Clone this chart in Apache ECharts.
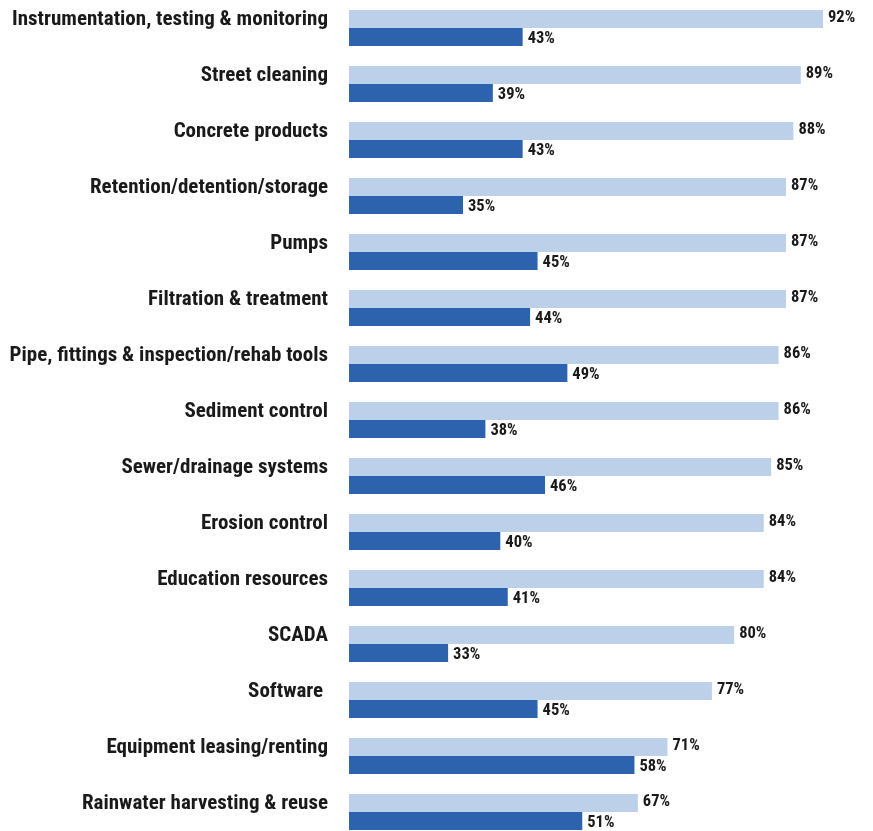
<!DOCTYPE html>
<html>
<head>
<meta charset="utf-8">
<script src="https://cdn.jsdelivr.net/npm/echarts@6/dist/echarts.min.js"></script>
<style>
html,body{margin:0;padding:0;background:#fff;}
#chart{width:873px;height:831px;}
</style>
</head>
<body>
<div id="chart"></div>
<script>
const categories = [
  "Instrumentation, testing & monitoring",
  "Street cleaning",
  "Concrete products",
  "Retention/detention/storage",
  "Pumps",
  "Filtration & treatment",
  "Pipe, fittings & inspection/rehab tools",
  "Sediment control",
  "Sewer/drainage systems",
  "Erosion control",
  "Education resources",
  "SCADA",
  "Software ",
  "Equipment leasing/renting",
  "Rainwater harvesting & reuse"
];
const lightValues = [92, 89, 88, 87, 87, 87, 86, 86, 85, 84, 84, 80, 77, 71, 67];
const darkValues  = [43, 39, 43, 35, 45, 44, 49, 38, 46, 40, 41, 33, 45, 58, 51];

const FONT = '"Roboto Condensed", "Liberation Sans Narrow", "Arial Narrow", "DejaVu Sans Condensed", sans-serif';
const chart = echarts.init(document.getElementById('chart'), null, {renderer: 'canvas'});
const valueLabel = {
  show: true,
  position: 'right',
  distance: 5,
  formatter: p => p.value + '%',
  fontFamily: FONT,
  fontSize: 16.5,
  fontWeight: 'bold',
  color: '#1a1a1a'
};
chart.setOption({
  animation: false,
  grid: {left: 349, top: 0, width: 474, height: 840, containLabel: false, outerBoundsMode: 'none'},
  xAxis: [
    {type: 'value', min: 28, max: 92, show: false, splitLine: {show: false}},
    {type: 'value', min: 19.7, max: 83.3, show: false, splitLine: {show: false}}
  ],
  yAxis: {
    type: 'category',
    data: categories,
    inverse: true,
    axisLine: {show: false},
    axisTick: {show: false},
    axisLabel: {
      margin: 21,
      fontFamily: FONT,
      fontSize: 21,
      fontWeight: 'bold',
      color: '#1a1a1a',
      verticalAlign: 'bottom',
      lineHeight: 16
    }
  },
  series: [
    {
      type: 'bar',
      name: 'light',
      xAxisIndex: 0,
      data: lightValues,
      barWidth: 18,
      barGap: '0%',
      itemStyle: {color: '#BCD0EA'},
      label: Object.assign({}, valueLabel, {offset: [0, -1]})
    },
    {
      type: 'bar',
      name: 'dark',
      xAxisIndex: 1,
      data: darkValues,
      barWidth: 18,
      barGap: '0%',
      itemStyle: {color: '#2C62AE'},
      label: Object.assign({}, valueLabel, {offset: [0, 2]})
    }
  ]
});
</script>
</body>
</html>
